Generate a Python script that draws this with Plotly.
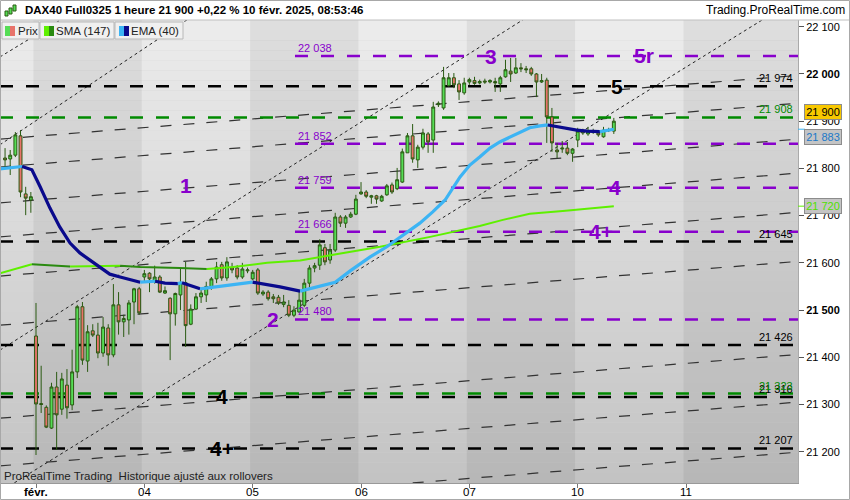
import plotly.graph_objects as go

# hourly bars, 31 Jan (last 6 bars) to 10 Feb 08:00
opens = [21822, 21820, 21828, 21869, 21746, 21733,
         21445, 21302, 21294, 21250, 21337, 21290, 21341, 21299, 21369, 21507, 21392,
         21456, 21447, 21409, 21462, 21405, 21511, 21475, 21479, 21517, 21545,
         21570, 21578, 21562, 21570, 21536, 21525, 21492, 21532, 21558, 21470, 21502,
         21528, 21532, 21549, 21566, 21596, 21568, 21590, 21589, 21570, 21583,
         21566, 21585, 21534, 21538, 21528, 21527, 21512, 21510, 21489, 21496, 21510,
         21557, 21589, 21595, 21632, 21606, 21627, 21697, 21684, 21697, 21703,
         21746, 21750, 21739, 21742, 21731, 21744, 21765, 21757, 21771, 21833, 21869,
         21818, 21845, 21873, 21860, 21935, 21928, 21975, 21992, 21979, 21960,
         21983, 21986, 21981, 21985, 21983, 21984, 21979, 21994, 22006, 22002, 22013,
         22011, 22011, 22000, 21983, 21987, 21909, 21839, 21841, 21843, 21832,
         21860, 21879, 21873, 21879, 21877, 21867, 21880, 21879]
highs = [21843, 21839, 21877, 21881, 21761, 21750,
         21515, 21382, 21298, 21346, 21369, 21367, 21375, 21416, 21511, 21517, 21468,
         21470, 21473, 21485, 21470, 21555, 21538, 21490, 21521, 21547, 21549,
         21585, 21580, 21594, 21574, 21550, 21527, 21537, 21589, 21602, 21512, 21536,
         21543, 21560, 21570, 21602, 21602, 21612, 21600, 21595, 21600, 21590,
         21585, 21589, 21542, 21542, 21534, 21532, 21532, 21521, 21508, 21543, 21566,
         21595, 21600, 21650, 21640, 21640, 21706, 21701, 21701, 21708, 21744,
         21771, 21754, 21744, 21744, 21744, 21767, 21770, 21801, 21842, 21875, 21894,
         21850, 21884, 21877, 21941, 21942, 22015, 22002, 22002, 21987, 21992,
         21992, 21994, 21988, 21990, 21989, 21992, 21996, 22030, 22034, 22034, 22023,
         22017, 22015, 22002, 22000, 21992, 21928, 21854, 21858, 21856, 21843,
         21886, 21884, 21888, 21884, 21880, 21888, 21886, 21907]
lows = [21801, 21786, 21824, 21739, 21701, 21706,
        21193, 21282, 21250, 21248, 21204, 21278, 21270, 21288, 21356, 21384, 21369,
        21443, 21398, 21401, 21382, 21400, 21448, 21443, 21448, 21470, 21490,
        21560, 21538, 21556, 21536, 21534, 21394, 21467, 21500, 21422, 21468, 21500,
        21515, 21517, 21543, 21557, 21562, 21562, 21578, 21565, 21566, 21578,
        21563, 21532, 21530, 21520, 21515, 21511, 21506, 21485, 21485, 21494, 21506,
        21547, 21580, 21585, 21595, 21598, 21623, 21676, 21674, 21695, 21701,
        21744, 21737, 21725, 21725, 21729, 21742, 21746, 21754, 21769, 21833, 21812,
        21801, 21840, 21833, 21833, 21930, 21924, 21973, 21970, 21945, 21956,
        21977, 21977, 21978, 21979, 21980, 21962, 21962, 21992, 21983, 22000, 22004,
        22002, 21996, 21951, 21981, 21854, 21835, 21822, 21833, 21828, 21814,
        21845, 21871, 21869, 21873, 21867, 21865, 21877, 21873]
closes = [21818, 21828, 21871, 21750, 21737, 21740,
          21301, 21300, 21252, 21337, 21278, 21354, 21293, 21369, 21507, 21394, 21454,
          21447, 21409, 21464, 21405, 21511, 21475, 21482, 21515, 21545, 21494,
          21577, 21566, 21570, 21538, 21541, 21492, 21535, 21558, 21467, 21502, 21528,
          21536, 21550, 21566, 21591, 21568, 21602, 21585, 21570, 21587, 21585,
          21580, 21536, 21538, 21524, 21524, 21515, 21517, 21489, 21500, 21521, 21557,
          21589, 21594, 21638, 21602, 21627, 21697, 21684, 21697, 21703, 21735,
          21750, 21741, 21742, 21735, 21741, 21763, 21750, 21776, 21835, 21869, 21820,
          21845, 21875, 21856, 21930, 21938, 21992, 21992, 21977, 21962, 21981,
          21988, 21980, 21984, 21983, 21986, 21981, 21992, 22009, 22000, 22013, 22011,
          22009, 22000, 21983, 21986, 21909, 21854, 21835, 21843, 21832, 21841,
          21879, 21875, 21879, 21877, 21871, 21881, 21882, 21900]
bar_x = list(range(len(opens)))

# day ticks (bar index of the first bar of each day)
day_first_bar = [6, 27, 48, 69, 90, 111, 132]
day_labels = ["<b>févr.</b>", "04", "05", "06", "07", "10", "11"]

# moving averages (bar position, value)
ema_x = [-1, 1.9, 3.3, 5.2, 6.8, 8.7, 10.6, 12.6, 14.5, 16.5, 18.4, 20.3, 22.3, 24.2,
         26.2, 29.1, 31.0, 33.5, 34.3, 37.8, 41.7, 48.0, 50.4, 53.3, 57.2, 60.6, 64.0,
         66.9, 70.7, 74.0, 77.1, 80.4, 82.9, 85.3, 88.2, 90.1, 92.0, 94.0, 95.9, 97.9,
         99.8, 101.7, 103.7, 105.2, 107.0, 108.9, 110.8, 112.8, 115.3, 118.0]
ema_val = [21799, 21803, 21804, 21797, 21761, 21716, 21676, 21642, 21621, 21606,
           21591, 21576, 21570, 21564, 21559, 21561, 21557, 21556, 21558, 21545,
           21551, 21559, 21555, 21549, 21540, 21549, 21559, 21583, 21612, 21634,
           21659, 21684, 21708, 21733, 21782, 21807, 21824, 21843, 21856, 21867,
           21877, 21886, 21890, 21892, 21888, 21884, 21881, 21879, 21878, 21883]
sma_x = [-1, 1.9, 5.2, 8.7, 12.6, 18.4, 22.3, 26.2, 33.9, 39.1, 44.2, 50.8, 57.2,
         63.6, 72.7, 82.4, 92.0, 96.5, 101.7, 108.1, 118.0]
sma_val = [21578, 21587, 21597, 21595, 21592, 21593, 21594, 21591, 21589, 21587,
           21591, 21600, 21605, 21617, 21634, 21655, 21678, 21691, 21704, 21710, 21720]

# horizontal levels
purple_levels = [22038, 21852, 21759, 21666, 21480]
black_levels = [21974, 21645, 21426, 21316, 21207]
green_levels = [21908, 21323]

# shallow parallel channel lines: value at left edge, rise across the chart
fan_left = [21862, 21803, 21727, 21655, 21572, 21468, 21271, 21170, 21064]
fan_rise = 135

# steep channel lines (start bar, start value, end bar, end value)
steep_x0 = [-1, -1, -1, 1.8]
steep_y0 = [22036, 21850, 21415, 21134]
steep_x1 = [11, 36, 101, 147]
steep_y1 = [22116, 22120, 22119, 22116]

# wave labels
wave_text = ["1", "2", "3", "5r", "5", "4", "4+", "4", "4+"]
wave_x = [35.1, 51.9, 94.2, 123.8, 118.6, 118.2, 115.5, 42.0, 42.0]
wave_y = [21763, 21480, 22038, 22040, 21974, 21759, 21666, 21316, 21207]
wave_col = ["p", "p", "p", "p", "k", "p", "p", "k", "k"]

X_MIN, X_MAX = -0.98, 153.7
Y_MIN, Y_MAX = 21133.7, 22114.3
PURPLE = "#8800cc"
GREEN_LVL = "#008a00"
WICK = "#2a5a12"
FONT = "Liberation Sans, Arial, sans-serif"


def fmt(v):
    return f"{v:,}".replace(",", " ")


def px(x):
    return x / 798.0


def py(y):
    return 1 - (y - 20) / 463.0


def runs(xs, ys):
    out = []
    for k in range(1, len(xs)):
        up = ys[k] >= ys[k - 1]
        if out and out[-1][0] == up:
            out[-1][1].append(xs[k])
            out[-1][2].append(ys[k])
        else:
            out.append([up, [xs[k - 1], xs[k]], [ys[k - 1], ys[k]]])
    return out


shapes = []

# background: vertical gradient in bands, darker tint on every other day
n_bands = 46
top, bot = 236, 195
for k in range(n_bands):
    g = round(bot + (top - bot) * (k + 0.5) / n_bands)
    shapes.append(dict(type="rect", xref="paper", yref="paper", x0=0, x1=1,
                       y0=k / n_bands, y1=(k + 1) / n_bands, layer="below",
                       fillcolor="rgb(%d,%d,%d)" % (g, g, g), line=dict(width=0)))
edges = [X_MIN] + [b - 0.5 for b in day_first_bar] + [X_MAX]
for k in range(1, len(edges) - 1, 2):
    shapes.append(dict(type="rect", xref="x", yref="paper", x0=edges[k], x1=edges[k + 1],
                       y0=0, y1=1, layer="below", fillcolor="rgba(0,0,0,0.06)",
                       line=dict(width=0)))

for v in fan_left:
    shapes.append(dict(type="line", xref="x", yref="y", x0=X_MIN, x1=X_MAX, y0=v,
                       y1=v + fan_rise, layer="below",
                       line=dict(color="#333333", width=1.2, dash="11px,12px")))
for a, b, c, d in zip(steep_x0, steep_y0, steep_x1, steep_y1):
    shapes.append(dict(type="line", xref="x", yref="y", x0=a, x1=c, y0=b, y1=d,
                       layer="below", line=dict(color="#222222", width=1, dash="3px,3px")))
for v in black_levels:
    shapes.append(dict(type="line", xref="x", yref="y", x0=X_MIN, x1=X_MAX, y0=v, y1=v,
                       layer="below", line=dict(color="black", width=2.5, dash="13px,13px")))
for v in green_levels:
    shapes.append(dict(type="line", xref="x", yref="y", x0=X_MIN, x1=X_MAX, y0=v, y1=v,
                       layer="below", line=dict(color=GREEN_LVL, width=2.5, dash="13px,13px")))
for v in purple_levels:
    shapes.append(dict(type="line", xref="x", yref="y", x0=56.2, x1=X_MAX, y0=v, y1=v,
                       layer="below", line=dict(color=PURPLE, width=2.5, dash="13px,13px")))

fig = go.Figure()

fig.add_trace(go.Candlestick(
    x=bar_x, open=opens, high=highs, low=lows, close=closes,
    increasing=dict(line=dict(color=WICK, width=1), fillcolor="#55dd55"),
    decreasing=dict(line=dict(color=WICK, width=1), fillcolor="#e8736a"),
    whiskerwidth=0, hoverinfo="skip"))

for up, xs, ys in runs(sma_x, sma_val):
    fig.add_trace(go.Scatter(x=xs, y=ys, mode="lines", hoverinfo="skip",
                             line=dict(color="#5ef000" if up else "#2a8a10", width=2)))
for up, xs, ys in runs(ema_x, ema_val):
    fig.add_trace(go.Scatter(x=xs, y=ys, mode="lines", hoverinfo="skip",
                             line=dict(color="#3cb4f4" if up else "#0a0a8c", width=3.2)))

ann = []
for v in black_levels:
    ann.append(dict(x=153.1, y=v, xref="x", yref="y", text=fmt(v), showarrow=False,
                    xanchor="right", yanchor="bottom", font=dict(size=11, color="black")))
for v in green_levels:
    ann.append(dict(x=153.1, y=v, xref="x", yref="y", text=fmt(v), showarrow=False,
                    xanchor="right", yanchor="bottom", font=dict(size=11, color=GREEN_LVL)))
for v in purple_levels:
    ann.append(dict(x=56.4, y=v, xref="x", yref="y", text=fmt(v), showarrow=False,
                    xanchor="left", yanchor="bottom", font=dict(size=11, color=PURPLE)))
for t, x, y, c in zip(wave_text, wave_x, wave_y, wave_col):
    ann.append(dict(x=x, y=y, xref="x", yref="y", text="<b>%s</b>" % t, showarrow=False,
                    xanchor="center", yanchor="middle",
                    font=dict(size=21, color=PURPLE if c == "p" else "black")))

# day labels under the axis
for b, t in zip(day_first_bar, day_labels):
    ann.append(dict(x=b, y=py(492), xref="x", yref="paper", text=t, showarrow=False,
                    xanchor="center", yanchor="middle", font=dict(size=11.5, color="black")))

# last values on the price scale
for val, shift, bg, fc in [(21900, 9, "#f8c800", "black"), (21883, -8, "#c4c4c4", "#1a78c8"),
                           (21720, 0, "#c4c4c4", "#4ee000")]:
    ann.append(dict(x=px(804), y=val, xref="paper", yref="y", yshift=shift, text=fmt(val),
                    showarrow=False, xanchor="left", yanchor="middle", bgcolor=bg,
                    bordercolor="#8c8c8c", borderwidth=1, borderpad=1, width=34,
                    font=dict(size=11, color=fc)))

# header, legend, footer
ann.append(dict(x=px(23), y=py(10), xref="paper", yref="paper", showarrow=False,
                xanchor="left", yanchor="middle",
                text="<b>DAX40 Full0325 1 heure 21 900 +0,22 % 10 févr. 2025, 08:53:46</b>",
                font=dict(size=11.5, color="black")))
ann.append(dict(x=px(847), y=py(10), xref="paper", yref="paper", showarrow=False,
                xanchor="right", yanchor="middle", text="Trading.ProRealTime.com",
                font=dict(size=12, color="black")))
for t, x in [("Prix", 16), ("SMA (147)", 54), ("EMA (40)", 129)]:
    ann.append(dict(x=px(x), y=py(31), xref="paper", yref="paper", showarrow=False,
                    xanchor="left", yanchor="middle", text=t, font=dict(size=11.5, color="#222")))
ann.append(dict(x=px(2), y=py(476), xref="paper", yref="paper", showarrow=False,
                xanchor="left", yanchor="middle",
                text="ProRealTime Trading\u00a0 Historique ajusté aux rollovers",
                font=dict(size=11.5, color="#222")))

for x0, x1 in [(2, 39), (40, 114), (115, 183)]:
    shapes.append(dict(type="rect", xref="paper", yref="paper", x0=px(x0), x1=px(x1),
                       y0=py(22), y1=py(39), fillcolor="#f0f0f0",
                       line=dict(color="#b8b8b8", width=1)))
for x0, c1, c2 in [(5, "#55dd55", "#e8736a"), (44, "#5ef000", "#2a8a10"),
                   (119, "#3cb4f4", "#0a0a8c")]:
    shapes.append(dict(type="rect", xref="paper", yref="paper", x0=px(x0), x1=px(x0 + 5),
                       y0=py(26), y1=py(36), fillcolor=c1, line=dict(width=0)))
    shapes.append(dict(type="rect", xref="paper", yref="paper", x0=px(x0 + 5), x1=px(x0 + 10),
                       y0=py(26), y1=py(36), fillcolor=c2, line=dict(width=0)))
# little candle icon in the header
for x0, y0, y1 in [(5, 11, 16), (9, 8, 14), (13, 5, 11)]:
    shapes.append(dict(type="rect", xref="paper", yref="paper", x0=px(x0), x1=px(x0 + 3),
                       y0=py(y1), y1=py(y0), fillcolor="#55dd55",
                       line=dict(color=WICK, width=1)))
shapes.append(dict(type="line", xref="paper", yref="paper", x0=px(0), x1=px(850),
                   y0=py(20), y1=py(20), line=dict(color="#c0c0c0", width=1)))
shapes.append(dict(type="rect", xref="paper", yref="paper", x0=px(0.5), x1=px(849.5),
                   y0=py(499.5), y1=py(0.5), line=dict(color="#a8a8a8", width=1)))
shapes.append(dict(type="line", xref="paper", yref="y", x0=1.0, x1=px(805),
                   y0=21883, y1=21883, line=dict(color="#3cb4f4", width=1)))
shapes.append(dict(type="line", xref="paper", yref="y", x0=1.0, x1=px(805),
                   y0=21720, y1=21720, line=dict(color="#5ef000", width=1)))

yticks = [21200, 21300, 21400, 21500, 21600, 21700, 21800, 21900, 22000, 22100]
ytext = ["<b>%s</b>" % fmt(v) if v in (21500, 22000) else fmt(v) for v in yticks]

fig.update_layout(
    width=850, height=500, margin=dict(l=0, r=52, t=20, b=17),
    paper_bgcolor="white", plot_bgcolor="#d0d0d0", showlegend=False, hovermode=False,
    boxgap=0.2,
    font=dict(family=FONT, size=11, color="black"),
    annotations=ann, shapes=shapes,
    xaxis=dict(range=[X_MIN, X_MAX], tickvals=day_first_bar, showticklabels=False,
               ticks="outside", ticklen=4, tickcolor="#777", showgrid=False, zeroline=False,
               showline=True, linecolor="#999", rangeslider=dict(visible=False),
               automargin=False),
    yaxis=dict(range=[Y_MIN, Y_MAX], side="right", tickvals=yticks, ticktext=ytext,
               ticks="outside", ticklen=5, tickcolor="#555", showgrid=False, zeroline=False,
               showline=True, linecolor="#aaa", automargin=False, tickfont=dict(size=11)),
)

fig.write_html("out.html", config={"displayModeBar": False},
               post_script="document.body.style.margin='0';")
